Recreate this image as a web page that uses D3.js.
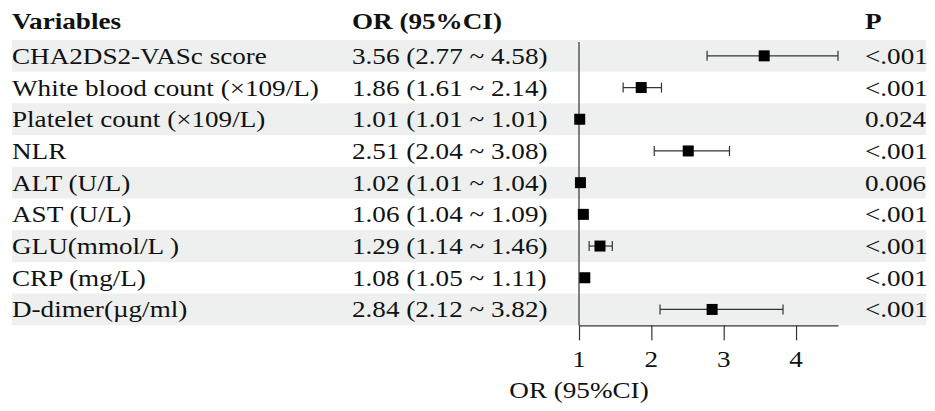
<!DOCTYPE html>
<html lang="en">
<head>
    <meta charset="UTF-8">
    <title>Forest plot - OR (95%CI)</title>
    <script src="https://d3js.org/d3.v7.min.js"></script>
    <style>
        body { margin: 0; background: #fff; }
        text { font-family: "Liberation Serif", "Times New Roman", serif; fill: #111; }
        .head { font-weight: bold; }
        .band { fill: #eef0ef; }
        .ci { stroke: #333; stroke-width: 1.2px; }
        .axis path, .axis line { stroke: #333; stroke-width: 1.2px; }
    </style>
</head>
<body>
    <svg id="chart" width="935" height="411"></svg>

    <script>
        // data
        const variables = ["CHA2DS2-VASc score", "White blood count (\u00d7109/L)", "Platelet count (\u00d7109/L)",
            "NLR", "ALT (U/L)", "AST (U/L)", "GLU(mmol/L )", "CRP (mg/L)", "D-dimer(\u00b5g/ml)"];
        const orValues = [3.56, 1.86, 1.01, 2.51, 1.02, 1.06, 1.29, 1.08, 2.84];
        const lowerCI = [2.77, 1.61, 1.01, 2.04, 1.01, 1.04, 1.14, 1.05, 2.12];
        const upperCI = [4.58, 2.14, 1.01, 3.08, 1.04, 1.09, 1.46, 1.11, 3.82];
        const pValues = ["<.001", "<.001", "0.024", "<.001", "0.006", "<.001", "<.001", "<.001", "<.001"];
        const tickValues = [1, 2, 3, 4];

        const FONT = 23;
        const SX = 1.18;          // picture is a bit stretched sideways
        const ROW_TOP = 40;
        const ROW_H = 31.7;
        const COL_VAR = 12, COL_OR = 352, COL_P = 865;

        const svg = d3.select("#chart");
        const fmt = d3.format(".2f");

        const rows = variables.map((v, i) => ({
            name: v, or: orValues[i], lo: lowerCI[i], hi: upperCI[i], p: pValues[i]
        }));

        const y = d3.scaleBand()
            .domain(d3.range(rows.length))
            .range([ROW_TOP, ROW_TOP + ROW_H * rows.length]);

        const x = d3.scaleLinear()
            .domain([1, d3.max(upperCI)])
            .range([579, 838]);

        function addText(g, str, px, py, cls, anchor) {
            g.append("text")
                .attr("class", cls || null)
                .attr("transform", `translate(${px},${py}) scale(${SX},1)`)
                .attr("text-anchor", anchor || "start")
                .style("font-size", FONT + "px")
                .text(str);
        }

        // shaded bands on odd rows
        svg.selectAll(".band")
            .data(rows.filter((d, i) => i % 2 === 0))
            .join("rect")
            .attr("class", "band")
            .attr("x", 12)
            .attr("width", 914)
            .attr("y", d => y(rows.indexOf(d)))
            .attr("height", y.bandwidth());

        // header
        const head = svg.append("g");
        addText(head, "Variables", COL_VAR, 29, "head");
        addText(head, "OR (95%CI)", COL_OR, 29, "head");
        addText(head, "P", COL_P, 29, "head");

        // text columns
        const body = svg.append("g");
        rows.forEach((d, i) => {
            const by = y(i) + y.bandwidth() / 2 + 8;
            addText(body, d.name, COL_VAR, by);
            addText(body, `${fmt(d.or)} (${fmt(d.lo)} ~ ${fmt(d.hi)})`, COL_OR, by);
            addText(body, d.p, COL_P, by);
        });

        // reference line at OR = 1
        svg.append("line")
            .attr("class", "ci")
            .attr("x1", x(1)).attr("x2", x(1))
            .attr("y1", ROW_TOP + 2)
            .attr("y2", y.range()[1]);

        // confidence intervals
        const marks = svg.append("g");
        rows.forEach((d, i) => {
            const cy = y(i) + y.bandwidth() / 2;
            if (d.hi > d.lo) {
                marks.append("line").attr("class", "ci")
                    .attr("x1", x(d.lo)).attr("x2", x(d.hi))
                    .attr("y1", cy).attr("y2", cy);
                [d.lo, d.hi].forEach(v => {
                    marks.append("line").attr("class", "ci")
                        .attr("x1", x(v)).attr("x2", x(v))
                        .attr("y1", cy - 5).attr("y2", cy + 5);
                });
            }
            marks.append("rect")
                .attr("x", x(d.or) - 5.5)
                .attr("y", cy - 5.5)
                .attr("width", 11)
                .attr("height", 11)
                .attr("fill", "#000");
        });

        // x axis
        const axis = svg.append("g")
            .attr("class", "axis")
            .attr("transform", `translate(0,${y.range()[1]})`)
            .call(d3.axisBottom(x).tickValues(tickValues).tickSize(15).tickSizeOuter(0).tickFormat(d3.format("d")));
        axis.selectAll(".tick text").remove();
        tickValues.forEach(t => addText(axis, t, x(t), 42, null, "middle"));

        addText(svg, "OR (95%CI)", x(1), 398, null, "middle");
    </script>
</body>
</html>
